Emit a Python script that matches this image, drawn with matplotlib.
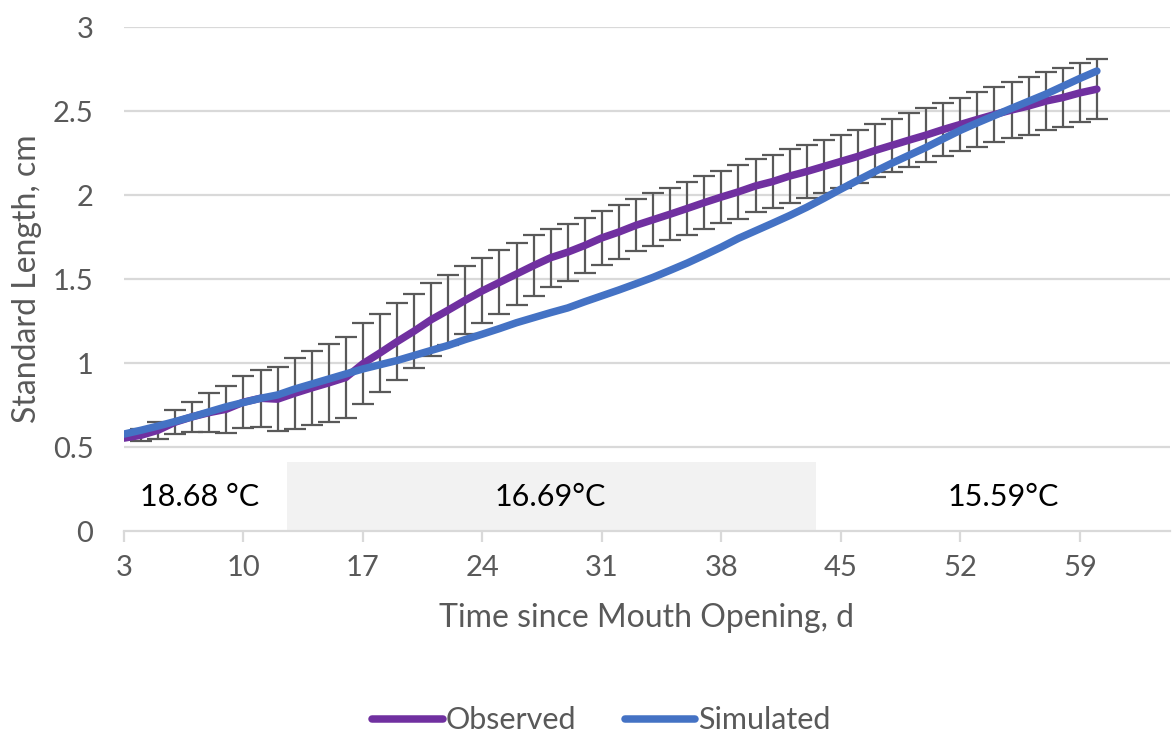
import numpy as np
import matplotlib
matplotlib.use("Agg")
import matplotlib.pyplot as plt
from matplotlib.patches import Rectangle

plt.rcParams['font.family'] = ['Lato', 'DejaVu Sans']

# Days since mouth opening
days = list(range(3, 61))

# Observed mean standard length (cm)
observed = [0.553, 0.57, 0.60, 0.648, 0.68, 0.705, 0.725, 0.767, 0.79, 0.785,
            0.82, 0.852, 0.882, 0.914, 0.996, 1.06, 1.127, 1.19, 1.258, 1.315,
            1.374, 1.43, 1.48, 1.53, 1.58, 1.627, 1.66, 1.70, 1.745, 1.78,
            1.82, 1.853, 1.886, 1.92, 1.955, 1.988, 2.019, 2.054, 2.08, 2.113,
            2.14, 2.17, 2.20, 2.23, 2.265, 2.296, 2.327, 2.357, 2.39, 2.42,
            2.45, 2.479, 2.506, 2.53, 2.559, 2.58, 2.608, 2.63]

# Standard deviation of observed length (no bar on the first day)
observed_sd = [np.nan, 0.035, 0.05, 0.072, 0.09, 0.115, 0.14, 0.156, 0.17, 0.19,
               0.21, 0.221, 0.231, 0.243, 0.24, 0.23, 0.228, 0.22, 0.216, 0.21,
               0.203, 0.194, 0.19, 0.186, 0.18, 0.173, 0.17, 0.165, 0.162, 0.158,
               0.155, 0.157, 0.154, 0.156, 0.158, 0.157, 0.16, 0.158, 0.157, 0.159,
               0.157, 0.159, 0.159, 0.157, 0.156, 0.157, 0.159, 0.159, 0.16, 0.16,
               0.163, 0.166, 0.169, 0.172, 0.172, 0.176, 0.176, 0.178]

# Simulated standard length (cm)
simulated = [0.577, 0.60, 0.625, 0.652, 0.68, 0.71, 0.74, 0.765, 0.79, 0.81,
             0.845, 0.875, 0.905, 0.935, 0.965, 0.99, 1.015, 1.045, 1.075, 1.105,
             1.14, 1.172, 1.205, 1.24, 1.27, 1.30, 1.328, 1.365, 1.40, 1.435,
             1.472, 1.51, 1.552, 1.595, 1.642, 1.69, 1.742, 1.787, 1.832, 1.878,
             1.927, 1.98, 2.035, 2.088, 2.14, 2.19, 2.237, 2.284, 2.335, 2.385,
             2.43, 2.473, 2.516, 2.558, 2.60, 2.647, 2.694, 2.738]

x_ticks = [3, 10, 17, 24, 31, 38, 45, 52, 59]
y_ticks = [0, 0.5, 1, 1.5, 2, 2.5, 3]

# Rearing temperature of each period and where its label sits
temp_labels = ["18.68 °C", "16.69°C", "15.59°C"]
temp_label_days = [7.4, 28.0, 54.5]
mid_period = (12.55, 43.55)

PURPLE = "#7030A0"
BLUE = "#4472C4"
GRID = "#D9D9D9"
TEXT = "#595959"

fig = plt.figure(figsize=(11.75, 7.36), dpi=100)
ax = fig.add_axes([0.1055, 0.2785, 0.8902, 0.6848])

ax.set_xlim(3, 64.28)
ax.set_ylim(0, 3)

# horizontal gridlines
for y in y_ticks[1:]:
    ax.axhline(y, color=GRID, lw=1.6, zorder=0)

# shaded middle temperature period
ax.add_patch(Rectangle((mid_period[0], 0), mid_period[1] - mid_period[0], 0.41,
                       facecolor="#F2F2F2", edgecolor="none", zorder=0.5))

ax.errorbar(days, observed, yerr=observed_sd, fmt="none", ecolor=TEXT,
            elinewidth=1.6, capsize=8, capthick=1.6, zorder=2)
ax.plot(days, observed, color=PURPLE, lw=5.4, solid_capstyle="round",
        label="Observed", zorder=3)
ax.plot(days, simulated, color=BLUE, lw=5.4, solid_capstyle="round",
        label="Simulated", zorder=4)

for txt, d in zip(temp_labels, temp_label_days):
    ax.text(d, 0.2, txt, ha="center", va="center", fontsize=22, color="black",
            zorder=5)

# axes styling
for s in ["top", "right", "left"]:
    ax.spines[s].set_visible(False)
ax.spines["bottom"].set_color(GRID)
ax.spines["bottom"].set_linewidth(1.6)
ax.spines["bottom"].set_zorder(1)

ax.set_xticks(x_ticks)
ax.set_yticks(y_ticks)
ax.set_yticklabels([f"{v:g}" for v in y_ticks])
ax.tick_params(axis="x", direction="out", length=8, width=1.6, color=GRID,
               labelsize=21, labelcolor=TEXT, pad=9)
ax.tick_params(axis="y", length=0, labelsize=21, labelcolor=TEXT, pad=22)

ax.set_xlabel("Time since Mouth Opening, d", fontsize=23, color=TEXT, labelpad=16)
ax.set_ylabel("Standard Length, cm", fontsize=23, color=TEXT, labelpad=8)

leg = fig.legend(loc="lower center", bbox_to_anchor=(0.512, -0.035), ncol=2,
                 frameon=False, fontsize=22, handlelength=2.3, handletextpad=0.1,
                 columnspacing=1.6)
for t in leg.get_texts():
    t.set_color(TEXT)

fig.savefig("out.png", dpi=100)
